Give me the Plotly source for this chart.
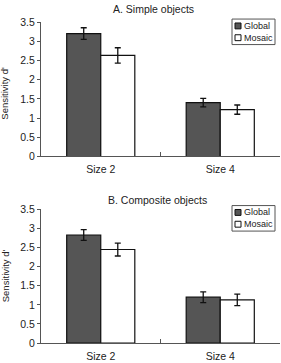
import plotly.graph_objects as go

categories = ["Size 2", "Size 4"]
series_names = ["Global", "Mosaic"]

# Panel A: Simple objects
a_global = [3.20, 1.40]
a_global_err = [0.15, 0.11]
a_mosaic = [2.63, 1.22]
a_mosaic_err = [0.20, 0.12]

# Panel B: Composite objects
b_global = [2.83, 1.20]
b_global_err = [0.14, 0.14]
b_mosaic = [2.45, 1.13]
b_mosaic_err = [0.17, 0.15]

titles = ["A. Simple objects", "B. Composite objects"]
y_title = "Sensitivity d'"
y_ticks = [0, 0.5, 1, 1.5, 2, 2.5, 3, 3.5]

colors = {"Global": "#555555", "Mosaic": "#ffffff"}
FONT = "Liberation Sans, Arial, sans-serif"

fig = go.Figure()

panels = [
    ("x", "y", a_global, a_global_err, a_mosaic, a_mosaic_err),
    ("x2", "y2", b_global, b_global_err, b_mosaic, b_mosaic_err),
]
for xa, ya, g, ge, m, me in panels:
    for name, vals, errs in [("Global", g, ge), ("Mosaic", m, me)]:
        fig.add_trace(go.Bar(
            x=categories, y=vals, name=name, xaxis=xa, yaxis=ya,
            marker=dict(color=colors[name], line=dict(color="#111111", width=1.2)),
            error_y=dict(type="data", array=errs, color="#111111", thickness=1.3, width=3),
            showlegend=False,
        ))

axis_common = dict(
    showgrid=False, zeroline=False, showline=True, linecolor="#555555", linewidth=1.2,
    tickfont=dict(family=FONT, size=10.5, color="#222222"),
)
xaxis_common = dict(domain=[0, 1], ticks="inside", tickson="boundaries", ticklen=4,
                    tickcolor="#555555", ticklabelstandoff=3, **axis_common)
yaxis_common = dict(range=[0, 3.5], tickvals=y_ticks, ticks="outside", ticklen=3,
                    tickcolor="#555555", **axis_common)
fig.update_layout(
    width=281, height=363,
    margin=dict(l=41, r=1, t=22, b=14),
    paper_bgcolor="white", plot_bgcolor="white",
    barmode="group", bargap=0.43, bargroupgap=0.0,
    font=dict(family=FONT, color="#222222"),
    xaxis=dict(anchor="y", **xaxis_common),
    xaxis2=dict(anchor="y2", **xaxis_common),
    yaxis=dict(domain=[0.581, 1.0], anchor="x", **yaxis_common),
    yaxis2=dict(domain=[0.0, 0.416], anchor="x2", **yaxis_common),
)

def px_x(px):
    return (px - 41) / 239.0

def px_y(py):
    return (349 - py) / 327.0

# Panel titles
for title, ty, tx in [(titles[0], 9, 153), (titles[1], 203, 157)]:
    fig.add_annotation(text=title, x=px_x(tx), y=px_y(ty), xref="paper", yref="paper",
                       showarrow=False, font=dict(family=FONT, size=10.5, color="#222222"),
                       xanchor="center", yanchor="middle")

# Y-axis titles
for cy in [95, 281]:
    fig.add_annotation(text=y_title, x=px_x(5), y=px_y(cy), xref="paper", yref="paper",
                       showarrow=False, textangle=-90, xanchor="center", yanchor="middle",
                       font=dict(family=FONT, size=9.5, color="#222222"))

# Manual legends
for top in [19, 209]:
    fig.add_shape(type="rect", xref="paper", yref="paper",
                  x0=px_x(232), x1=px_x(275), y0=px_y(top + 26), y1=px_y(top),
                  line=dict(color="#555555", width=1), fillcolor="white")
    for i, name in enumerate(series_names):
        cy = top + 7 + i * 12
        fig.add_shape(type="rect", xref="paper", yref="paper",
                      x0=px_x(235), x1=px_x(241), y0=px_y(cy + 3), y1=px_y(cy - 3),
                      line=dict(color="#111111", width=1), fillcolor=colors[name])
        fig.add_annotation(text=name, x=px_x(242), y=px_y(cy), xref="paper", yref="paper",
                           showarrow=False, xanchor="left", yanchor="middle",
                           font=dict(family=FONT, size=9, color="#222222"))

fig.write_html("out.html")
